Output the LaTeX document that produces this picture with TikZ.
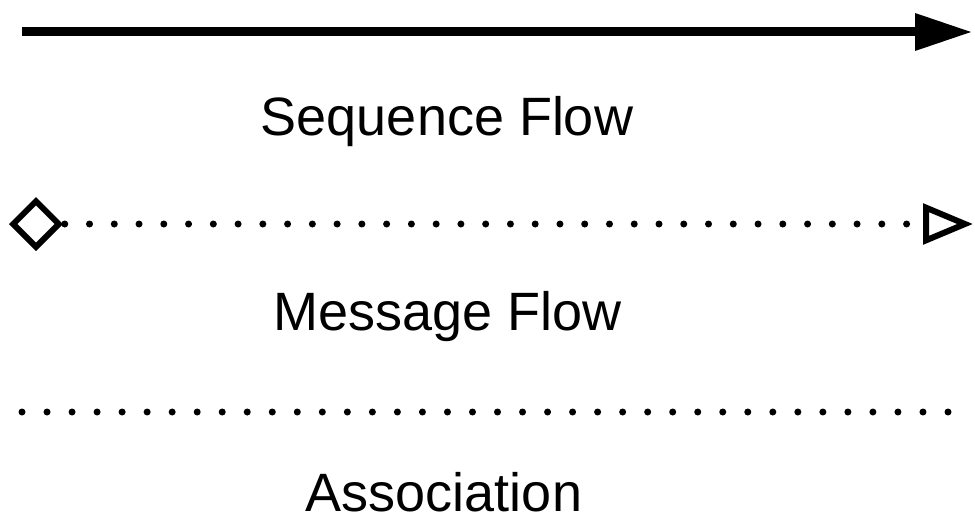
\documentclass[tikz,border=0pt]{standalone}
\usepackage{fontspec}
\setmainfont{Liberation Sans}
\usetikzlibrary{arrows.meta,shapes.geometric}
\begin{document}
\begin{tikzpicture}[x=1pt,y=-1pt,
  flowtext/.style={font=\fontsize{54}{64}\selectfont, anchor=base, inner sep=0pt},
  seqflow/.style={line width=9pt, -{Triangle[length=56pt,width=38pt,line width=0pt]}},
  dotline/.style={line width=7pt, line cap=round, dash pattern=on 0pt off #1},
  dotline/.default=25.027pt,
  msgstart/.style={diamond, draw, line width=6pt, aspect=1, inner sep=0pt,
    minimum width=48pt, minimum height=48pt, fill=white},
  msgflow/.style={dotline=24.76pt, dash phase=23pt,
    -{Triangle[open,length=50pt,width=40pt,line width=6pt]}}
]
\useasboundingbox (0,0) rectangle (975,519);

% sequence flow: solid line with filled head
\coordinate (s1) at (22,32);
\coordinate (s2) at (971,32);
\draw[seqflow] (s1) -- (s2);
\node[flowtext] (t1) at (447,135) {Sequence Flow};

% message flow: diamond start, dotted line, open head
\node[msgstart] (md) at (36,224) {};
\coordinate (me) at (973,224);
\draw[msgflow] (md.east) -- (me);
\node[flowtext] (t2) at (448,330) {Message Flow};

% association: plain dotted line
\coordinate (a1) at (22,412);
\coordinate (a2) at (948.5,412);
\draw[dotline] (a1) -- (a2);
\node[flowtext] (t3) at (444,511) {Association};
\end{tikzpicture}
\end{document}
